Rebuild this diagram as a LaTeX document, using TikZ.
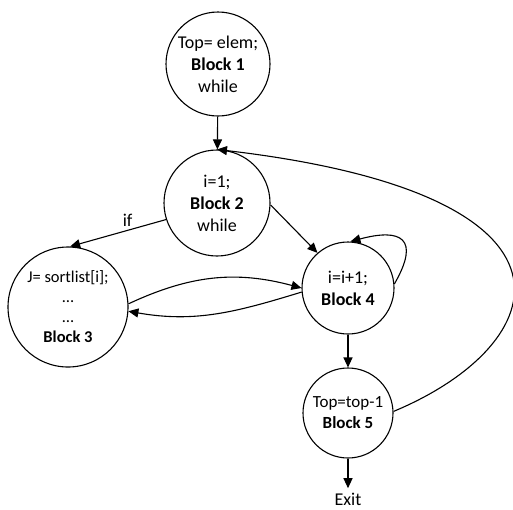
\documentclass[tikz,border=0pt]{standalone}
\usepackage{fontspec}
\setmainfont{Carlito}
\usepackage{tikz}
\usetikzlibrary{arrows.meta}

\begin{document}
\begin{tikzpicture}[x=1pt, y=-1pt, line width=1.1pt, >={Triangle[length=10pt, width=9pt]},
    main/.style = {draw, circle, inner sep=-5pt, align=center, font=\fontsize{18}{22}\selectfont}]
    \useasboundingbox (0,0) rectangle (513,509);

    \node [main, minimum size=104pt] (b1) at (218, 64) {Top= elem;\\ \textbf{Block 1}\\ while};
    \node [main, minimum size=106pt] (b2) at (217, 203) {i=1;\\ \textbf{Block 2}\\ while};
    \node [main, minimum size=120pt, font=\fontsize{16.5}{20}\selectfont] (b3) at (68, 307) {J= sortlist[i];\\ …\\ …\\ \textbf{Block 3}};
    \node [main, minimum size=92pt] (b4) at (348, 288) {i=i+1;\\ \textbf{Block 4}};
    \node [main, minimum size=90pt, font=\fontsize{17}{21}\selectfont] (b5) at (348, 413) {Top=top-1\\ \textbf{Block 5}};
    \node [inner sep=4pt, font=\fontsize{18}{22}\selectfont] (exit) at (348, 499) {Exit};

    \draw [->] (b1) -- (b2);
    \draw [->] (b2.198) -- node[pos=0.4, above, font=\fontsize{18}{22}\selectfont] {if} (b3.88);
    \draw [->] (b2.358) -- (b4.131);
    \draw [->] (b3.3) to[out=25, in=165] (b4.180);
    \draw [->] (b4.185) to[out=197, in=-10] (b3.356);
    \draw [->] (b4.5) to[out=60, in=15, looseness=2.2] (b4.87);
    \draw [->] (b4) -- (b5);
    \draw [->] (b5) -- (exit);
    \draw [->] (b5.2) .. controls (553,345) and (606,195) .. (b2.90);

\end{tikzpicture}
\end{document}
